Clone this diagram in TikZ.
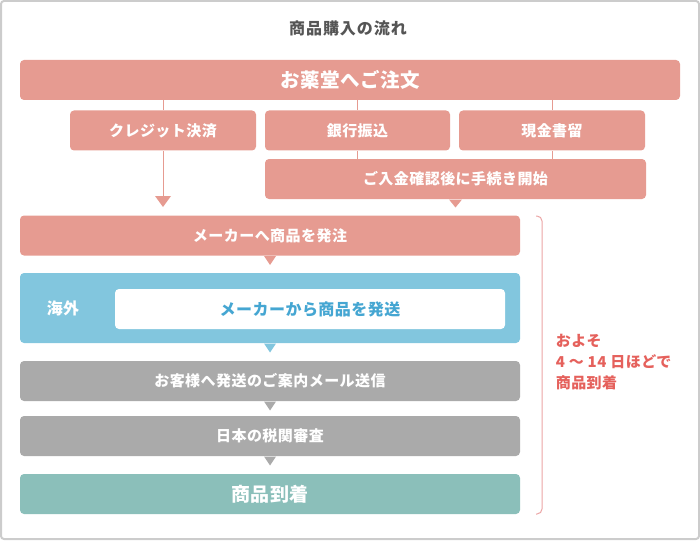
\documentclass[tikz,border=0pt]{standalone}
\usepackage{fontspec}
\newfontfamily\jp{Noto Sans CJK JP}[LetterSpace=3]
\newfontfamily\jpwide{Noto Sans CJK JP}[LetterSpace=6]
\definecolor{salmon}{HTML}{E69B91}
\definecolor{skyblue}{HTML}{82C6DE}
\definecolor{boxgray}{HTML}{AAAAAA}
\definecolor{mint}{HTML}{8BBFBA}
\definecolor{bracketpink}{HTML}{EBA5A5}
\definecolor{notered}{HTML}{E5615C}
\definecolor{shipblue}{HTML}{45A6D2}
\definecolor{titlegray}{HTML}{555555}
\definecolor{framegray}{HTML}{CCCCCC}
\tikzset{
  box/.style={rounded corners=4pt,inner sep=0pt,minimum height=40pt,text=white,
    font=\jp\bfseries\fontsize{15}{16}\selectfont},
  salmonbox/.style={box,fill=salmon},
  graybox/.style={box,fill=boxgray},
}
\begin{document}
\begin{tikzpicture}[x=1pt,y=-1pt,line width=1pt]
\useasboundingbox (0,0) rectangle (700,540);
\draw[framegray,line width=2pt,rounded corners=3pt] (1,1) rectangle (699,539);
\node[font=\jpwide\bfseries\fontsize{16}{18}\selectfont,text=titlegray] (title) at (348,28) {商品購入の流れ};
% ordering and payment
\node[salmonbox,minimum width=660pt,font=\jp\bfseries\fontsize{19.5}{21}\selectfont] (order) at (350,80) {お薬堂へご注文};
\node[salmonbox,minimum width=186pt] (card) at (163,130.5) {クレジット決済};
\node[salmonbox,minimum width=185pt] (bank) at (357.5,130.5) {銀行振込};
\node[salmonbox,minimum width=186pt] (cash) at (552,130.5) {現金書留};
\node[salmonbox,minimum width=381pt] (confirm) at (455.5,179) {ご入金確認後に手続き開始};
\foreach \n in {card,bank,cash} \draw[salmon] (order.south -| \n) -- (\n.north);
\foreach \n in {bank,cash} \draw[salmon] (\n.south) -- (confirm.north -| \n);
\coordinate (cardtip) at (163,207);
\draw[salmon] (card.south) -- ([yshift=11pt]cardtip);
\fill[salmon] ([shift={(-8pt,11pt)}]cardtip) -- ([shift={(8pt,11pt)}]cardtip) -- (cardtip) -- cycle;
% delivery steps
\node[salmonbox,minimum width=500pt] (maker) at (270,235.5) {メーカーへ商品を発注};
\node[box,fill=skyblue,minimum width=500pt,minimum height=70pt] (abroad) at (270,308) {};
\node[text=white,font=\jp\bfseries\fontsize{16}{16}\selectfont] (abroadlbl) at (63,308) {海外};
\node[box,fill=white,text=shipblue,minimum width=390pt,font=\jp\bfseries\fontsize{16}{16}\selectfont] (ship) at (310,309) {メーカーから商品を発送};
\node[graybox,minimum width=500pt] (mail) at (270,381) {お客様へ発送のご案内メール送信};
\node[graybox,minimum width=500pt] (customs) at (270,436) {日本の税関審査};
\node[box,fill=mint,minimum width=500pt,font=\jp\bfseries\fontsize{19}{19}\selectfont] (arrive) at (270,494) {商品到着};
\foreach \n/\c in {maker/salmon,abroad/skyblue,mail/boxgray,customs/boxgray}
  \fill[\c] ([xshift=-6pt]\n.south) -- ([xshift=6pt]\n.south) -- ([yshift=-9pt]\n.south) -- cycle;
\fill[salmon] ([xshift=-6.5pt]confirm.south) -- ([xshift=6.5pt]confirm.south) -- ([yshift=-8pt]confirm.south) -- cycle;
% duration bracket
\coordinate (brtop) at (536,216); \coordinate (brbot) at (536,514);
\draw[bracketpink,rounded corners=5pt] (brtop) -- ++(6,0) |- (brbot);
\node[text=notered,anchor=west,align=left,font=\jp\bfseries\fontsize{15}{21}\selectfont] (days) at (552,362) {およそ\\4 ～ 14 日ほどで\\商品到着};
\end{tikzpicture}
\end{document}
